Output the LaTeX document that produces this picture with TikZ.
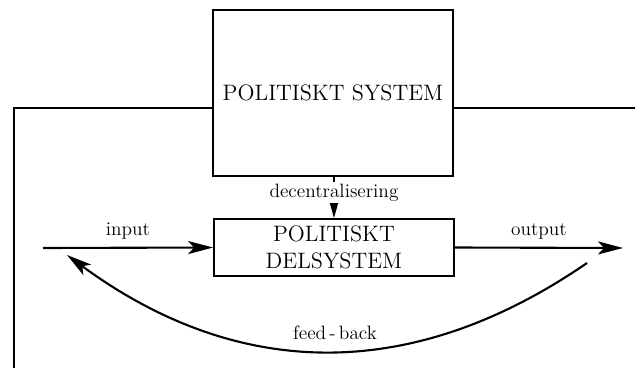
\documentclass[tikz,border=0pt]{standalone}
\usepackage{tikz}
\usetikzlibrary{arrows.meta, positioning, calc}

\tikzset{
  sysbox/.style={draw, line width=1.1pt, minimum width=4.8cm, align=center,
    font=\fontsize{12.7}{15}\selectfont},
  flowline/.style={line width=1.2pt},
  bigtip/.style={-{Stealth[length=5mm, width=2.6mm, inset=1.2mm]}},
  lbl/.style={font=\fontsize{11}{13}\selectfont}
}

\begin{document}
\begin{tikzpicture}[x=0.02cm, y=-0.02cm]
  \useasboundingbox (0,0) rectangle (635,368);

  % Boxes
  \node[sysbox, minimum height=3.32cm] (sys) at (333,93) {POLITISKT SYSTEM};
  \node[sysbox, minimum height=1.14cm] (del) at (334,247.5) {POLITISKT\\DELSYSTEM};

  % Frame lines
  \coordinate (lft) at (14,108);
  \coordinate (bot) at (14,368);
  \coordinate (rgt) at (635,108);
  \draw[flowline] (sys.west |- lft) -- (lft) -- (bot);
  \draw[flowline] (sys.east |- rgt) -- (rgt);

  % Decentralisering
  \draw[flowline, -{Stealth[length=3.6mm, width=2mm, inset=0.8mm]}]
    (sys.south -| del.north) -- (del.north)
    node[lbl, pos=0.38, fill=white, inner sep=1pt] (dec) {decentralisering};

  % Input / output
  \coordinate (in) at (43,248);
  \coordinate (out) at (623,248);
  \draw[flowline, bigtip] (in) -- (del.west)
    node[lbl, midway, above=1pt] (inlbl) {input};
  \draw[flowline, bigtip] (del.east) -- (out)
    node[lbl, midway, above=1pt] (outlbl) {output};

  % Feed-back
  \coordinate (fbs) at (587,263);
  \coordinate (fbe) at (67,255);
  \draw[flowline, bigtip] (fbs) .. controls (414,382) and (240,382) .. (fbe);
  \node[lbl] (fb) at (335,333) {feed\,-\,back};
\end{tikzpicture}
\end{document}
